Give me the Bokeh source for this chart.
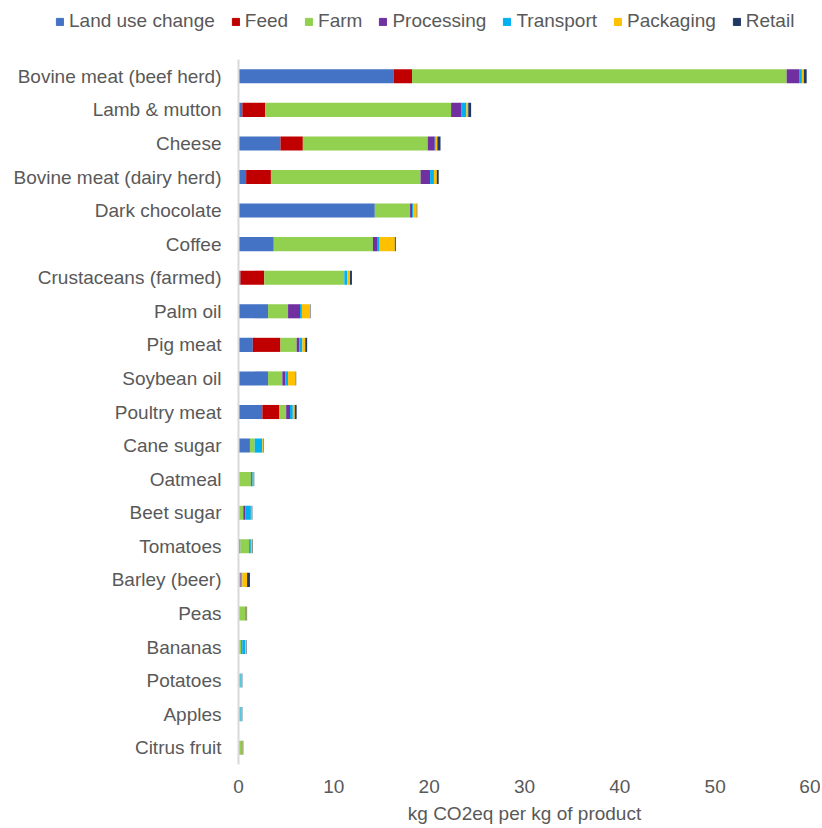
from bokeh.plotting import figure
from bokeh.layouts import column
from bokeh.models import FactorRange, Range1d, FixedTicker, Legend, LegendItem, ColumnDataSource
from bokeh.embed import file_html
from bokeh.resources import INLINE

categories = ["Bovine meat (beef herd)", "Lamb & mutton", "Cheese", "Bovine meat (dairy herd)",
              "Dark chocolate", "Coffee", "Crustaceans (farmed)", "Palm oil", "Pig meat",
              "Soybean oil", "Poultry meat", "Cane sugar", "Oatmeal", "Beet sugar", "Tomatoes",
              "Barley (beer)", "Peas", "Bananas", "Potatoes", "Apples", "Citrus fruit"]

land_use   = [16.3, 0.4, 4.4, 0.8, 14.3, 3.7, 0.2, 3.1, 1.5, 3.1, 2.5, 1.2, 0.0, 0.0, 0.2, 0.0, 0.0, 0.0, 0.0, 0.0, 0.0]
feed       = [1.9, 2.4, 2.35, 2.6, 0.0, 0.0, 2.5, 0.0, 2.9, 0.0, 1.8, 0.0, 0.0, 0.0, 0.0, 0.0, 0.0, 0.0, 0.0, 0.0, 0.0]
farm       = [39.3, 19.5, 13.1, 15.7, 3.7, 10.4, 8.4, 2.1, 1.7, 1.5, 0.7, 0.5, 1.3, 0.5, 0.9, 0.2, 0.7, 0.3, 0.2, 0.2, 0.3]
processing = [1.3, 1.1, 0.74, 1.0, 0.2, 0.5, 0.0, 1.25, 0.3, 0.3, 0.4, 0.0, 0.1, 0.2, 0.0, 0.1, 0.0, 0.1, 0.0, 0.0, 0.0]
transport  = [0.3, 0.5, 0.1, 0.4, 0.1, 0.2, 0.3, 0.2, 0.3, 0.3, 0.3, 0.8, 0.1, 0.6, 0.2, 0.1, 0.1, 0.3, 0.1, 0.1, 0.1]
packaging  = [0.2, 0.2, 0.17, 0.3, 0.4, 1.6, 0.3, 0.85, 0.3, 0.8, 0.2, 0.1, 0.1, 0.1, 0.15, 0.5, 0.05, 0.1, 0.05, 0.05, 0.05]
retail     = [0.3, 0.3, 0.33, 0.2, 0.05, 0.1, 0.2, 0.05, 0.2, 0.05, 0.2, 0.05, 0.05, 0.05, 0.05, 0.3, 0.05, 0.05, 0.05, 0.05, 0.05]

series_names = ["Land use change", "Feed", "Farm", "Processing", "Transport", "Packaging", "Retail"]
series_keys = ["land_use", "feed", "farm", "processing", "transport", "packaging", "retail"]
colors = ["#4472C4", "#C00000", "#92D050", "#7030A0", "#00B0F0", "#FFC000", "#203864"]
x_ticks = [0, 10, 20, 30, 40, 50, 60]

source = ColumnDataSource(dict(cat=categories, land_use=land_use, feed=feed, farm=farm,
                               processing=processing, transport=transport,
                               packaging=packaging, retail=retail))

FONT = "Liberation Sans"
TXT = "#595959"
FS = "19px"
LEG_H = 40

# ---- legend strip (separate figure so the legend can sit left of the plot frame) ----
lg = figure(width=820, height=LEG_H, output_backend="svg", toolbar_location=None,
            x_range=Range1d(0, 1), y_range=Range1d(0, 1),
            min_border_left=0, min_border_right=0, min_border_top=0, min_border_bottom=0)
lg.frame_align = False
lg.outline_line_color = None
lg.xaxis.visible = False
lg.yaxis.visible = False
lg.xgrid.visible = False
lg.ygrid.visible = False
offscreen = ColumnDataSource(dict(x=[-10], y=[-10]))
leg_renderers = [lg.rect(x="x", y="y", width=0.1, height=0.1, color=c, source=offscreen)
                 for c in colors]
items = [LegendItem(label=n, renderers=[r]) for n, r in zip(series_names, leg_renderers)]
legend = Legend(items=items, orientation="horizontal", location=(55, 8),
                glyph_width=9, glyph_height=9, label_standoff=5, spacing=16,
                padding=0, margin=0, border_line_color=None, background_fill_alpha=0,
                label_text_font=FONT, label_text_font_size=FS, label_text_color=TXT)
lg.add_layout(legend, "center")

# ---- main chart ----
p = figure(width=820, height=828 - LEG_H, output_backend="svg", toolbar_location=None,
           y_range=FactorRange(*categories[::-1], range_padding=0),
           x_range=Range1d(0, 60),
           min_border_left=238, min_border_right=10, min_border_top=59 - LEG_H,
           min_border_bottom=64)
p.frame_align = False

p.hbar_stack(series_keys, y="cat", height=0.42, color=colors, source=source, line_color=None)

p.outline_line_color = None
p.xgrid.visible = False
p.ygrid.visible = False

p.xaxis.ticker = FixedTicker(ticks=x_ticks)
p.xaxis.axis_line_color = None
p.xaxis.major_tick_line_color = None
p.xaxis.minor_tick_line_color = None
p.xaxis.major_label_text_font = FONT
p.xaxis.major_label_text_font_size = FS
p.xaxis.major_label_text_color = TXT
p.xaxis.major_label_standoff = 9
p.xaxis.axis_label = "kg CO2eq per kg of product"
p.xaxis.axis_label_text_font = FONT
p.xaxis.axis_label_text_font_size = FS
p.xaxis.axis_label_text_font_style = "normal"
p.xaxis.axis_label_text_color = TXT
p.xaxis.axis_label_standoff = 7

p.yaxis.axis_line_color = "#D9D9D9"
p.yaxis.axis_line_width = 2
p.yaxis.major_tick_line_color = None
p.yaxis.minor_tick_line_color = None
p.yaxis.major_label_text_font = FONT
p.yaxis.major_label_text_font_size = FS
p.yaxis.major_label_text_color = TXT
p.yaxis.major_label_standoff = 11

layout = column(lg, p, spacing=0)
open("out.html", "w").write(file_html(layout, INLINE))
